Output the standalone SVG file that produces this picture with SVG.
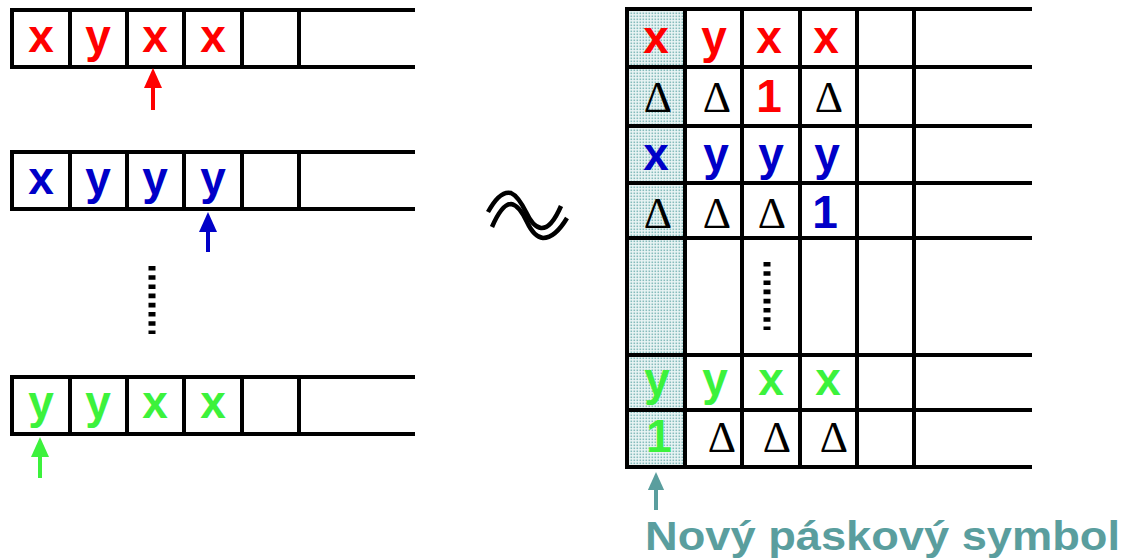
<svg xmlns="http://www.w3.org/2000/svg" width="1125" height="559" viewBox="0 0 1125 559">
<style>
.ln{stroke:#000;stroke-width:4;fill:none;stroke-linecap:square}
.b{font-family:"Liberation Sans",Arial,sans-serif;font-weight:bold;font-size:46px;text-anchor:middle}
.d{font-family:"Liberation Serif","Times New Roman",serif;font-size:44px;text-anchor:middle;fill:#000}
.r{fill:#ff0000}.bl{fill:#0000c8}.g{fill:#3cf23c}
</style>
<defs>
<pattern id="dots" width="3" height="3" patternUnits="userSpaceOnUse">
<rect width="3" height="3" fill="#eaf5f5"/>
<rect x="0.5" y="0.5" width="1.6" height="1.6" fill="#86bcbc"/>
</pattern>
<marker id="hr" viewBox="0 0 20 18" refX="0" refY="9" markerWidth="20" markerHeight="18" markerUnits="userSpaceOnUse" orient="auto"><path d="M0,0 L20,9 L0,18 z" fill="#ff0000"/></marker>
<marker id="hb" viewBox="0 0 20 18" refX="0" refY="9" markerWidth="20" markerHeight="18" markerUnits="userSpaceOnUse" orient="auto"><path d="M0,0 L20,9 L0,18 z" fill="#0000c8"/></marker>
<marker id="hg" viewBox="0 0 20 18" refX="0" refY="9" markerWidth="20" markerHeight="18" markerUnits="userSpaceOnUse" orient="auto"><path d="M0,0 L20,9 L0,18 z" fill="#3cf23c"/></marker>
<marker id="ht" viewBox="0 0 20 18" refX="0" refY="9" markerWidth="18" markerHeight="17" markerUnits="userSpaceOnUse" orient="auto"><path d="M0,0 L20,9 L0,18 z" fill="#5a9e9e"/></marker>
</defs>
<rect width="1125" height="559" fill="#fff"/>

<g id="tape1">
<path class="ln" d="M413,10 H12 V67 H413 M70,10 V67 M127,10 V67 M184,10 V67 M242,10 V67 M299,10 V67"/>
<text class="b r" x="41" y="52">x</text>
<text class="b r" x="98" y="52">y</text>
<text class="b r" x="155" y="52">x</text>
<text class="b r" x="213" y="52">x</text>
</g>

<g id="tape2">
<path class="ln" d="M413,152 H12 V209 H413 M70,152 V209 M127,152 V209 M184,152 V209 M242,152 V209 M299,152 V209"/>
<text class="b bl" x="41" y="194">x</text>
<text class="b bl" x="98" y="194">y</text>
<text class="b bl" x="155" y="194">y</text>
<text class="b bl" x="213" y="194">y</text>
</g>

<g id="dots-left">
<line x1="152" y1="266" x2="152" y2="334" stroke="#000" stroke-width="7" stroke-dasharray="4.6 4.6"/>
</g>

<g id="tape3">
<path class="ln" d="M413,377 H12 V434 H413 M70,377 V434 M127,377 V434 M184,377 V434 M242,377 V434 M299,377 V434"/>
<text class="b g" x="41" y="418">y</text>
<text class="b g" x="98" y="418">y</text>
<text class="b g" x="155" y="418">x</text>
<text class="b g" x="213" y="418">x</text>
</g>

<g id="tilde">
<path d="M488,212 Q500,190 511,193 Q518,196 526,212 Q533,227 541,228 Q551,229 561,206" fill="none" stroke="#000" stroke-width="4.5"/>
<path d="M492,227 Q502,204 511,204 Q519,205 527,222 Q534,237 543,238 Q555,238 567,218" fill="none" stroke="#000" stroke-width="4.5"/>
</g>

<g id="grid">
<rect x="627" y="9" width="58" height="458" fill="url(#dots)"/>
<path class="ln" d="M1030,9 H627 V467 H1030 M627,67 H1030 M627,126 H1030 M627,183 H1030 M627,238 H1030 M627,355 H1030 M627,410 H1030 M685,9 V467 M742,9 V467 M800,9 V467 M857,9 V467 M914,9 V467"/>
<text class="b r" x="656" y="53">x</text>
<text class="b r" x="714" y="53">y</text>
<text class="b r" x="769" y="53">x</text>
<text class="b r" x="826" y="53">x</text>
<text class="d" x="658" y="112">Δ</text>
<text class="d" x="717" y="112">Δ</text>
<text class="b r" x="769" y="112">1</text>
<text class="d" x="829" y="112">Δ</text>
<text class="b bl" x="656" y="170">x</text>
<text class="b bl" x="716" y="170">y</text>
<text class="b bl" x="771" y="170">y</text>
<text class="b bl" x="827" y="170">y</text>
<text class="d" x="658" y="228">Δ</text>
<text class="d" x="717" y="228">Δ</text>
<text class="d" x="772" y="228">Δ</text>
<text class="b bl" x="825" y="228">1</text>
<line x1="767" y1="262" x2="767" y2="330" stroke="#000" stroke-width="7" stroke-dasharray="4.6 4.6"/>
<text class="b g" x="657" y="395">y</text>
<text class="b g" x="715" y="395">y</text>
<text class="b g" x="771" y="395">x</text>
<text class="b g" x="828" y="395">x</text>
<text class="b g" x="659" y="452">1</text>
<text class="d" x="722" y="452">Δ</text>
<text class="d" x="777" y="452">Δ</text>
<text class="d" x="834" y="452">Δ</text>
</g>

<g id="connectors">
<line x1="153" y1="110" x2="153" y2="88" stroke="#ff0000" stroke-width="4" marker-end="url(#hr)"/>
<line x1="208" y1="252" x2="208" y2="232" stroke="#0000c8" stroke-width="4" marker-end="url(#hb)"/>
<line x1="40" y1="478" x2="40" y2="457" stroke="#3cf23c" stroke-width="4" marker-end="url(#hg)"/>
<line x1="656" y1="510" x2="656" y2="490" stroke="#5a9e9e" stroke-width="4" marker-end="url(#ht)"/>
</g>

<g id="label">
<text x="645" y="550" font-family="'Liberation Sans',Arial,sans-serif" font-weight="bold" font-size="40" fill="#5a9e9e" textLength="475" lengthAdjust="spacingAndGlyphs">Nový páskový symbol</text>
</g>
</svg>
